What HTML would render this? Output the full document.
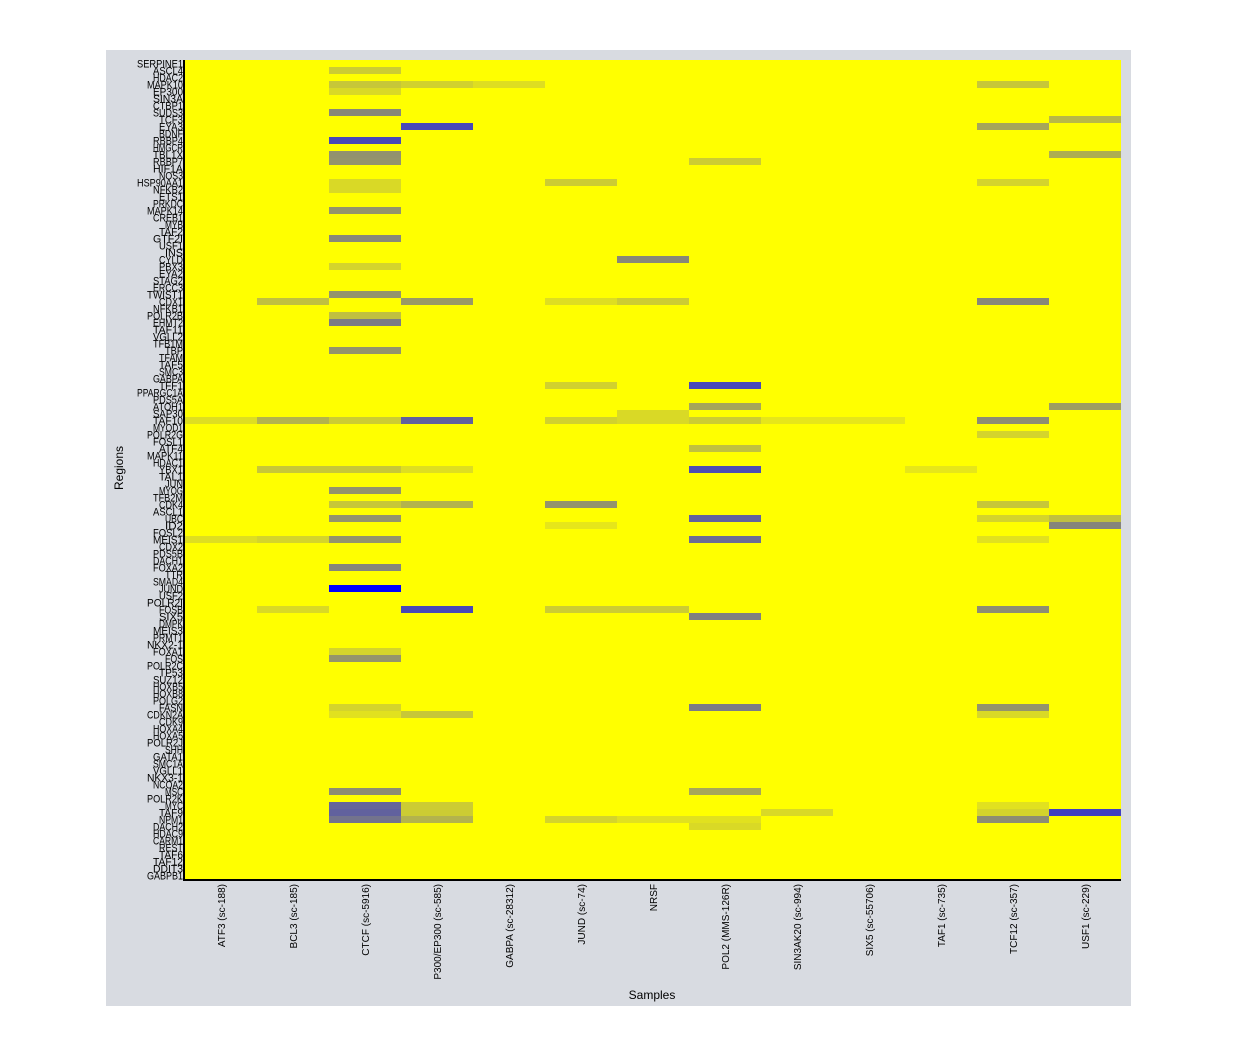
<!DOCTYPE html>
<html><head><meta charset="utf-8"><style>
body{margin:0;background:#fff;width:1237px;height:1057px;overflow:hidden;font-family:"Liberation Sans",sans-serif}
</style></head><body>
<svg id="chart" width="1237" height="1057" xmlns="http://www.w3.org/2000/svg">
<rect x="106" y="50" width="1025" height="956" fill="#d8dbe1"/>
<g id="cells"></g>
<g id="rowlabels"></g>
<g id="collabels"></g>
<line x1="184" y1="60" x2="184" y2="880" stroke="#000" stroke-width="2"/>
<line x1="183" y1="880" x2="1121" y2="880" stroke="#000" stroke-width="2"/>
<text transform="translate(123,468) rotate(-90)" text-anchor="middle" font-size="12" fill="#000">Regions</text>
<text x="652" y="999" text-anchor="middle" font-size="12" fill="#000">Samples</text>
</svg>
<script>
const regions=["SERPINE1","ASCL4","HDAC2","MAPK10","EP300","SIN3A","CTBP1","SUDS3","TCF3","EYA3","BDNF","RBBP4","HMGCR","TBL1X","RBBP7","HIF1A","NOS3","HSP90AA1","NFKB2","ETS1","PRKDC","MAPK14","CREB1","MYB","TAF2","GTF2I","USF1","INS","CYLD","PBX3","EYA2","STAG2","ERCC3","TWIST1","CDX1","NFKB1","POLR2B","EHMT2","TAF11","VGLL2","TFB1M","TBP","TFAM","TAF5","SMC3","GABPA","TFF1","PPARGC1A","PDS5A","ATOH1","SAP30","TAF10","MYOD1","POLR2G","FOSL1","ATF4","MAPK11","HDAC1","YBX1","TAL1","JUN","MYOG","TFB2M","CDK4","ASCL1","UBC","ID2","FOSL2","MEIS1","CDX2","PDS5B","DACH1","FOXA2","TTR","SMAD4","JUND","USF2","POLR2I","FOSB","SIX5","DMPK","MEIS3","PRMT1","NKX2-1","FOXA1","FOS","POLR2C","TP53","SUZ12","HOXB5","HOXB8","POLG2","FASN","CDKN2A","CDK9","HOXA4","HOXA5","POLR2J","SHH","GATA1","SMC1A","VGLL1","NKX3-1","NCOA2","MSC","POLR2K","MYC","TAF9","NPM1","DACH2","HDAC9","CARM1","REST","TAF6","TAF12","DDIT3","GABPB1"];
const samples=["ATF3 (sc-188)","BCL3 (sc-185)","CTCF (sc-5916)","P300/EP300 (sc-585)","GABPA (sc-28312)","JUND (sc-74)","NRSF","POL2 (MMS-126R)","SIN3AK20 (sc-994)","SIX5 (sc-55706)","TAF1 (sc-735)","TCF12 (sc-357)","USF1 (sc-229)"];
// [regionIndex, sampleIndex, value]; all other cells are 0
const cellRows=[1,3,3,3,3,4,7,8,9,9,11,13,13,14,14,17,17,17,18,21,25,28,29,33,34,34,34,34,34,36,37,41,46,46,49,49,50,51,51,51,51,51,51,51,51,51,51,53,55,58,58,58,58,58,61,63,63,63,63,65,65,65,65,66,66,68,68,68,68,68,72,75,78,78,78,78,78,79,84,85,92,92,92,93,93,93,104,104,106,106,106,107,107,107,107,107,108,108,108,108,108,108,109];
const cellCols=[2,2,3,4,11,2,2,12,3,11,2,2,12,2,7,2,5,11,2,2,2,6,2,2,1,3,5,6,11,2,2,2,5,7,7,12,6,0,1,2,3,5,6,7,8,9,11,11,7,1,2,3,7,10,2,2,3,5,11,2,7,11,12,5,12,0,1,2,7,11,2,2,1,3,5,6,11,7,2,2,2,7,11,2,3,11,2,7,2,3,11,2,3,8,11,12,2,3,5,6,11,7,7];
const cellVals=[0.2,0.22,0.18,0.13,0.22,0.15,0.47,0.28,0.72,0.35,0.72,0.43,0.32,0.42,0.2,0.15,0.2,0.17,0.15,0.42,0.47,0.47,0.17,0.42,0.25,0.4,0.13,0.2,0.47,0.25,0.52,0.42,0.18,0.72,0.35,0.38,0.15,0.13,0.3,0.2,0.62,0.18,0.15,0.2,0.1,0.1,0.45,0.17,0.25,0.22,0.22,0.13,0.7,0.1,0.42,0.22,0.3,0.42,0.22,0.42,0.62,0.17,0.25,0.1,0.48,0.13,0.17,0.42,0.58,0.12,0.48,1.0,0.15,0.72,0.2,0.2,0.45,0.5,0.17,0.42,0.17,0.52,0.42,0.12,0.22,0.15,0.45,0.35,0.6,0.2,0.12,0.62,0.2,0.15,0.17,0.75,0.55,0.3,0.17,0.12,0.45,0.12,0.15];

const X0=185,X1=1121,Y0=60,Y1=879;
const cw=(X1-X0)/samples.length, rh=(Y1-Y0)/regions.length;
const xPos=i=>X0+i*cw, yPos=i=>Y0+i*rh;
function color(v){
  let r,g,b;
  if(v<=0.5){const t=v/0.5;r=255+(128-255)*t;g=r;b=128*t;}
  else{const t=(v-0.5)/0.5;r=128*(1-t);g=r;b=128+127*t;}
  return `rgb(${Math.round(r)},${Math.round(g)},${Math.round(b)})`;
}
const NS="http://www.w3.org/2000/svg";
const cells=document.getElementById('cells');
const bg=document.createElementNS(NS,'rect');


bg.setAttribute('x',X0);bg.setAttribute('y',Y0);bg.setAttribute('width',X1-X0);bg.setAttribute('height',Y1-Y0);bg.setAttribute('fill','#ffff00');
cells.appendChild(bg);
for(let k=0;k<cellVals.length;k++){
  const r=document.createElementNS(NS,'rect');
  
  
  r.setAttribute('x',xPos(cellCols[k]));r.setAttribute('y',yPos(cellRows[k]));
  r.setAttribute('width',cw);r.setAttribute('height',rh);
  r.setAttribute('fill',color(cellVals[k]));
  cells.appendChild(r);
}
const rl=document.getElementById('rowlabels');
regions.forEach((n,i)=>{
  const t=document.createElementNS(NS,'text');
  
  
  t.setAttribute('x',183);t.setAttribute('y',yPos(i)+rh/2+4);
  t.setAttribute('text-anchor','end');t.setAttribute('font-size','11');
  t.setAttribute('textLength',Math.min(46,n.length*6));t.setAttribute('lengthAdjust','spacingAndGlyphs');
  t.textContent=n;rl.appendChild(t);
});
const cl=document.getElementById('collabels');
samples.forEach((n,i)=>{
  const t=document.createElementNS(NS,'text');
  
  
  const cx=xPos(i)+cw/2+4;
  t.setAttribute('transform',`translate(${cx},884) rotate(-90)`);
  t.setAttribute('text-anchor','end');t.setAttribute('font-size','10');
  t.textContent=n;cl.appendChild(t);
});
</script>
</body></html>
